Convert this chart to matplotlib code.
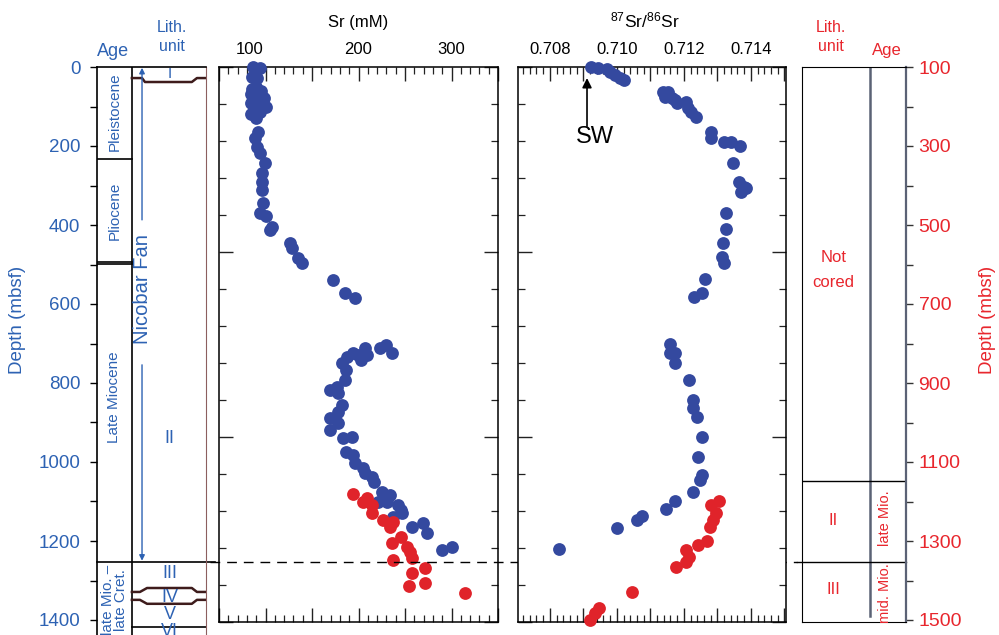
import numpy as np
import matplotlib
matplotlib.use('Agg')
import matplotlib.pyplot as plt
from matplotlib.ticker import MultipleLocator, FixedLocator, NullFormatter
import matplotlib.transforms as mtransforms

plt.rcParams['font.family'] = ['Liberation Sans', 'DejaVu Sans']
plt.rcParams['mathtext.fontset'] = 'custom'
plt.rcParams['mathtext.rm'] = 'Liberation Sans'
plt.rcParams['mathtext.default'] = 'regular'

BLUE_TXT = '#2d62b3'
RED_TXT = '#e8262d'
BLUE_PT = '#34499f'
RED_PT = '#e0232a'
GREY_LN = '#5b6275'
BROWN = '#3e1c1c'

# ---- data (depth in mbsf, left scale) ----
sr_blue_depth = [0, 2.5, 25, 28,
                 50, 55, 62, 68, 72, 78, 82, 88, 92, 98, 102, 108, 115, 120, 128,
                 165, 180, 203, 218, 243, 268, 291, 311, 344, 370, 377, 405, 413,
                 446, 458, 484, 496, 539, 572, 585,
                 704, 711, 711, 724, 724, 729, 729, 734, 742, 749, 767, 792, 810,
                 818, 825, 856, 873, 889, 901, 919, 937, 939, 975, 982, 1003, 1015,
                 1028, 1038, 1051, 1076, 1084, 1101, 1101, 1109, 1122, 1129, 1139,
                 1154, 1165, 1180, 1215, 1223]
sr_blue_val = [86.5, 94, 85, 91,
               90, 86, 95, 84, 92, 98, 88, 96, 84, 92, 100, 88, 94, 84, 90,
               92, 89, 91, 94, 99, 96, 96, 96, 97, 94, 100, 107, 105,
               126, 128, 135, 139, 173, 185, 196,
               230, 207, 223, 194, 236, 199, 209, 188, 203, 182, 187, 185, 177,
               169, 178, 182, 178, 169, 178, 169, 193, 183, 187, 194, 196, 205,
               207, 215, 217, 225, 234, 231, 221, 242, 246, 247, 237,
               269, 258, 274, 300, 290]
sr_red_depth = [1081, 1091, 1101, 1109, 1129, 1147, 1152, 1165, 1190, 1205,
                1215, 1228, 1243, 1248, 1268, 1281, 1306, 1314, 1332]
sr_red_val = [194, 209, 205, 215, 215, 226, 237, 234, 246, 236,
              252, 255, 257, 237, 271, 257, 271, 254, 315]

iso_blue_depth = [0, 2.5, 5, 13, 20, 28, 33,
                  63, 63, 76, 78, 84, 91, 89, 104, 114, 127,
                  165, 180, 190, 190, 200, 243, 291, 304, 316, 306,
                  370, 410, 446, 481, 496, 537, 572, 582,
                  701, 724, 724, 749, 792, 843, 863, 886, 937, 987, 1033, 1046,
                  1076, 1099, 1119, 1137, 1147, 1167, 1220]
iso_blue_val = [0.70923, 0.70944, 0.70971, 0.70980, 0.70995, 0.71010, 0.71022,
                0.71139, 0.71154, 0.71145, 0.71166, 0.71175, 0.71181, 0.71205,
                0.71211, 0.71220, 0.71235,
                0.71280, 0.71280, 0.71319, 0.71340, 0.71367, 0.71346, 0.71364,
                0.71379, 0.71370, 0.71385,
                0.71325, 0.71325, 0.71316, 0.71313, 0.71319, 0.71262, 0.71253,
                0.71229,
                0.71160, 0.71160, 0.71175, 0.71175, 0.71214, 0.71226, 0.71226,
                0.71238, 0.71253, 0.71241, 0.71253, 0.71247,
                0.71226, 0.71175, 0.71148, 0.71076, 0.71061, 0.71001, 0.70827]
iso_red_depth = [1099, 1109, 1129, 1147, 1165, 1200, 1210, 1223, 1241, 1253,
                 1266, 1329, 1370, 1382, 1400]
iso_red_val = [0.71304, 0.71280, 0.71295, 0.71286, 0.71277, 0.71268, 0.71241,
               0.71205, 0.71214, 0.71205, 0.71178, 0.71046, 0.70947, 0.70935,
               0.70920]

# left columns: ages and lithologic units
age_names = ['Pleistocene', 'Pliocene', 'Late Miocene']
age_mid = [113, 365, 835]
age_bounds = [233, 493, 498]
unit_names = ['I', 'II', 'III', 'IV', 'V', 'VI']
unit_mid = [17, 940, 1283, 1342, 1385, 1430]
# right columns (right depth scale)
r_unit_names = ['Not\ncored', 'II', 'III']
r_unit_mid = [614, 1247, 1424]
r_age_names = ['late Mio.', 'mid. Mio.']
r_age_mid = [1242, 1432]

W, H = 999, 635
TOP = 67
PXM = 0.395  # pixels per metre


def box(l, t, r, b):
    return [l / W, 1 - b / H, (r - l) / W, (b - t) / H]


def ftext(x, y, s, **kw):
    fig.text(x / W, 1 - y / H, s, **kw)


fig = plt.figure(figsize=(W / 100, H / 100), dpi=100)

# ---------------- left columns ----------------
axL = fig.add_axes(box(97, TOP, 206, 635))
axL.set_xlim(0, 1)
axL.set_ylim((635 - TOP) / PXM, 0)
for s in ['left', 'top']:
    axL.spines[s].set_linewidth(1.2)
axL.spines['right'].set_color('#8c5f5f')
axL.spines['bottom'].set_visible(False)
axL.set_xticks([])
axL.yaxis.set_major_locator(MultipleLocator(200))
axL.yaxis.set_minor_locator(MultipleLocator(100))
axL.tick_params(axis='y', which='both', direction='out', length=5, width=1,
                labelcolor=BLUE_TXT, labelsize=13.5, pad=7)
axL.tick_params(axis='y', which='minor', labelleft=False)
xa = 0.32
axL.axvline(xa, color='black', lw=1.2)
axL.plot([0, xa], [age_bounds[0]] * 2, color='black', lw=1.2)
axL.plot([0, xa], [age_bounds[1]] * 2, color='black', lw=1.2)
axL.plot([0, xa], [age_bounds[2]] * 2, color='black', lw=1.2)
axL.plot([0, 1.083], [1253, 1253], color='black', lw=1.2, clip_on=False)
for name, d in zip(age_names, age_mid):
    axL.text(xa / 2, d, name, rotation=90, ha='center', va='center',
             color=BLUE_TXT, fontsize=11)
axL.text(xa / 2, 1350, 'late Mio. \u2013\nlate Cret.', rotation=90,
         ha='center', va='center', color=BLUE_TXT, fontsize=11,
         linespacing=0.95, clip_on=True)
for name, d in zip(unit_names, unit_mid):
    axL.text(0.665, d, name, ha='center', va='center', color=BLUE_TXT,
             fontsize=13 if name != 'I' else 11, clip_on=True)

# wavy unit boundaries
wx = [xa, 0.413, 0.44, 0.87, 0.917, 1.0]
axL.plot(wx, [28, 28, 38, 38, 28, 28], color=BROWN, lw=1.8)
wx2 = [xa, 0.394, 0.459, 0.87, 0.917, 1.0]
axL.plot(wx2, [1329, 1329, 1319, 1319, 1329, 1329], color=BROWN, lw=1.8)
axL.plot(wx2, [1349, 1349, 1359, 1359, 1349, 1349], color=BROWN, lw=1.8)
axL.plot([xa, 1], [1418, 1418], color='black', lw=1.2)

# Nicobar Fan arrow
arr = dict(arrowstyle='-|>', color=BLUE_TXT, lw=1, mutation_scale=8,
           shrinkA=0, shrinkB=0)
axL.annotate('', xy=(0.413, 2), xytext=(0.413, 387), arrowprops=arr)
axL.annotate('', xy=(0.413, 1250), xytext=(0.413, 754), arrowprops=arr)
axL.text(0.413, 562, 'Nicobar Fan', rotation=90, ha='center', va='center',
         color=BLUE_TXT, fontsize=14.5)

ftext(113, 52, 'Age', ha='center', va='center', color=BLUE_TXT, fontsize=13)
ftext(172, 37, 'Lith.\nunit', ha='center', va='center', color=BLUE_TXT,
      fontsize=11.5, linespacing=1.3)
ftext(18, 320, 'Depth (mbsf)', ha='center', va='center', color=BLUE_TXT,
      fontsize=13.5, rotation=90)

# ---------------- data panels ----------------
ymax = (622 - TOP) / PXM
ytk = np.linspace(0, ymax, 16)


def style_panel(ax):
    ax.set_ylim(ymax, 0)
    for s in ax.spines.values():
        s.set_linewidth(1.1)
    ax.xaxis.set_ticks_position('both')
    ax.yaxis.set_ticks_position('both')
    ax.yaxis.set_major_locator(FixedLocator(ytk[::5]))
    ax.yaxis.set_minor_locator(FixedLocator(ytk))
    ax.yaxis.set_major_formatter(NullFormatter())
    ax.tick_params(which='both', direction='in', color='#222222')
    ax.tick_params(which='major', length=10, width=1)
    ax.tick_params(which='minor', length=5, width=0.9)
    ax.tick_params(axis='x', labeltop=True, labelbottom=False, labelsize=12,
                   pad=7)


MS = 85

axS = fig.add_axes(box(219, TOP, 498, 622))
axS.set_xlim(50, 350)
style_panel(axS)
axS.xaxis.set_major_locator(MultipleLocator(50))
axS.xaxis.set_minor_locator(MultipleLocator(10))
axS.xaxis.set_major_formatter(
    plt.FuncFormatter(lambda v, p: f'{v:.0f}' if v in (100, 200, 300) else ''))
axS.scatter(sr_blue_val, sr_blue_depth, s=MS, c=BLUE_PT, linewidths=0,
            zorder=3, clip_on=False)
axS.scatter(sr_red_val, sr_red_depth, s=MS, c=RED_PT, linewidths=0,
            zorder=4, clip_on=False)

axI = fig.add_axes(box(518, TOP, 786, 622))
axI.set_xlim(0.70705, 0.71505)
style_panel(axI)
axI.xaxis.set_major_locator(MultipleLocator(0.001))
axI.xaxis.set_minor_locator(MultipleLocator(0.0002))
axI.xaxis.set_major_formatter(
    plt.FuncFormatter(lambda v, p: f'{v:.3f}' if round(v * 1000) % 2 == 0 else ''))
axI.scatter(iso_blue_val, iso_blue_depth, s=MS, c=BLUE_PT, linewidths=0,
            zorder=3, clip_on=False)
axI.scatter(iso_red_val, iso_red_depth, s=MS, c=RED_PT, linewidths=0,
            zorder=4, clip_on=False)
axI.annotate('', xy=(0.70911, 28), xytext=(0.70911, 150),
             arrowprops=dict(arrowstyle='-|>', color='black', lw=1.2,
                             mutation_scale=14, shrinkA=0, shrinkB=0))
axI.text(0.70935, 177, 'SW', ha='center', va='center', fontsize=17)

ftext(358, 23, 'Sr (mM)', ha='center', va='center', fontsize=12)
ftext(645, 20, '$^{87}$Sr/$^{86}$Sr', ha='center', va='center', fontsize=12.5)

# dashed unit boundary across panels
tr = mtransforms.blended_transform_factory(fig.transFigure, axS.transData)
axS.plot([210 / W, 797 / W], [1253, 1253], transform=tr, color='black',
         lw=1, ls=(0, (7, 5)), clip_on=False, zorder=5)

# ---------------- right columns ----------------
axR = fig.add_axes(box(802, TOP, 906, 622))
axR.set_xlim(0, 1)
axR.set_ylim(100 + ymax, 100)
axR.set_xticks([])
axR.spines['right'].set_color(GREY_LN)
axR.spines['right'].set_linewidth(1.6)
axR.yaxis.tick_right()
axR.yaxis.set_major_locator(MultipleLocator(200, offset=100))
axR.yaxis.set_minor_locator(MultipleLocator(100))
axR.tick_params(axis='y', which='both', direction='out', length=5, width=1,
                labelcolor=RED_TXT, labelsize=14, pad=4, color='#333333')
axR.tick_params(axis='y', which='minor', labelright=False)
axR.plot([0.654, 0.654], [100, 1490], color=GREY_LN, lw=1.8)
axR.plot([0, 1], [1148, 1148], color='black', lw=1)
axR.plot([-0.048, 1], [1353, 1353], color='black', lw=1, clip_on=False)
for name, d in zip(r_unit_names, r_unit_mid):
    axR.text(0.30, d, name, ha='center', va='center', color=RED_TXT,
             fontsize=12, linespacing=1.8)
for name, d in zip(r_age_names, r_age_mid):
    axR.text(0.80, d, name, rotation=90, ha='center', va='center',
             color=RED_TXT, fontsize=10.5)

ftext(831, 37, 'Lith.\nunit', ha='center', va='center', color=RED_TXT,
      fontsize=11.5, linespacing=1.3)
ftext(887, 50, 'Age', ha='center', va='center', color=RED_TXT, fontsize=12)
ftext(988, 320, 'Depth (mbsf)', ha='center', va='center', color=RED_TXT,
      fontsize=13.5, rotation=90)

# the "100" label sits a little left of its tick in the original
fig.canvas.draw()
shift = mtransforms.ScaledTranslation(-0.16, 0, fig.dpi_scale_trans)
for t in axS.xaxis.get_major_ticks():
    if abs(t.get_loc() - 100) < 1e-6:
        t.label2.set_transform(t.label2.get_transform() + shift)

fig.savefig('out.png', dpi=100)
